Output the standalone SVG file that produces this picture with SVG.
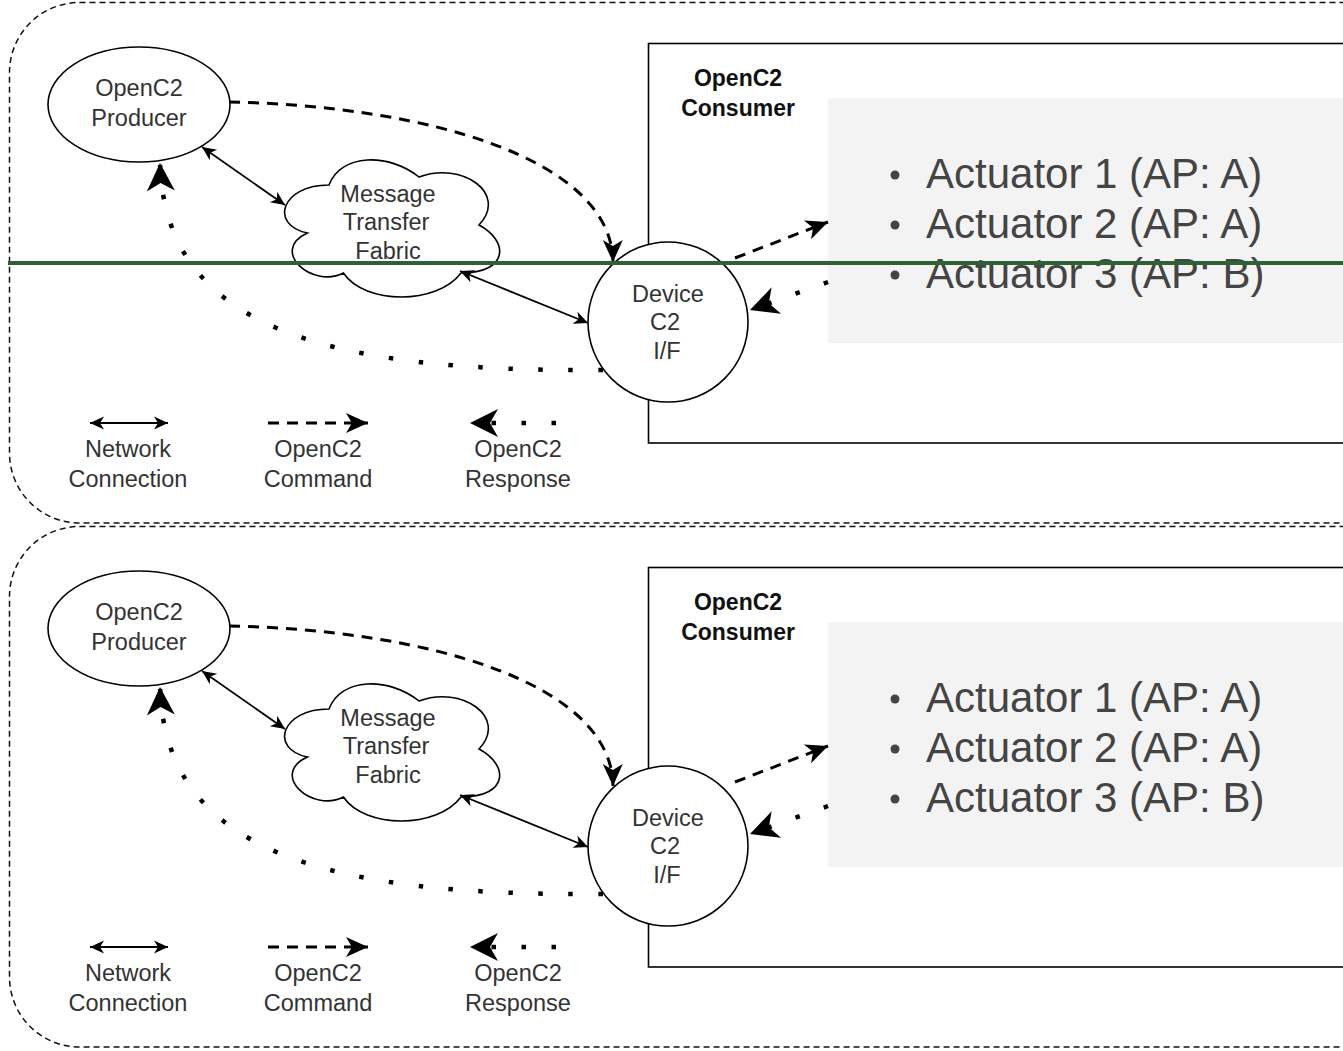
<svg xmlns="http://www.w3.org/2000/svg" width="1343" height="1051" viewBox="0 0 1343 1051">
  <style>
    .frame { fill: none; stroke: #111; stroke-width: 1.5; stroke-dasharray: 6 4; }
    .node { fill: #fff; stroke: #000; stroke-width: 1.6; }
    .box { fill: #fff; stroke: #000; stroke-width: 1.6; }
    .panel { fill: #f3f3f3; stroke: none; }
    .lbl { font-family: "Liberation Sans", Arial, sans-serif; font-size: 23.5px; fill: #333; text-anchor: middle; }
    .bold { font-weight: bold; fill: #111; font-size: 23px; }
    .act { font-family: "Liberation Sans", Arial, sans-serif; font-size: 42px; fill: #444; }
    .bullet { fill: #444; }
    .net { fill: none; stroke: #000; stroke-width: 1.8; marker-start: url(#netHead); marker-end: url(#netHead); }
    .cmd { fill: none; stroke: #000; stroke-width: 3; stroke-dasharray: 11 8; marker-end: url(#cmdHead); }
    .rsp { fill: none; stroke: #000; stroke-width: 4.5; stroke-dasharray: 4.5 25.5; marker-end: url(#rspHead); }
    .divider { stroke: #2e6133; stroke-width: 4; }
  </style>
  <defs>
    <marker id="netHead" markerUnits="userSpaceOnUse" orient="auto-start-reverse" refX="0" refY="0" markerWidth="1" markerHeight="1" overflow="visible">
      <path d="M0,0 L-14,-6.5 L-10,0 L-14,6.5 Z" fill="#000"/>
    </marker>
    <marker id="cmdHead" markerUnits="userSpaceOnUse" orient="auto" refX="0" refY="0" markerWidth="1" markerHeight="1" overflow="visible">
      <path d="M0,0 L-22,-10 L-16,0 L-22,10 Z" fill="#000"/>
    </marker>
    <marker id="rspHead" markerUnits="userSpaceOnUse" orient="auto" refX="0" refY="0" markerWidth="1" markerHeight="1" overflow="visible">
      <path d="M0,0 L-28,-14 L-20,0 L-28,14 Z" fill="#000"/>
    </marker>
  </defs>

  <!-- Upper scenario -->
  <g id="scenario-a">
    <rect class="frame" x="9.5" y="2.5" width="1500" height="520.5" rx="70" ry="70"/>

    <g id="a-consumer">
      <rect class="box" x="648.5" y="43.5" width="800" height="399.5"/>
      <text class="lbl bold" x="738" y="86">OpenC2</text>
      <text class="lbl bold" x="738" y="116">Consumer</text>
    </g>

    <g id="a-actuators">
      <rect class="panel" x="828" y="98" width="600" height="245"/>
      <circle class="bullet" cx="895" cy="175" r="4.5"/>
      <circle class="bullet" cx="895" cy="225" r="4.5"/>
      <circle class="bullet" cx="895" cy="275" r="4.5"/>
      <text class="act" x="926" y="188">Actuator 1 (AP: A)</text>
      <text class="act" x="926" y="238">Actuator 2 (AP: A)</text>
      <text class="act" x="926" y="288">Actuator 3 (AP: B)</text>
    </g>

    <g id="a-producer">
      <ellipse class="node" cx="139" cy="104.5" rx="91" ry="57.5"/>
      <text class="lbl" x="139" y="96">OpenC2</text>
      <text class="lbl" x="139" y="126">Producer</text>
    </g>

    <g id="a-fabric">
      <path class="node" d="M329,185 C281,185 269,225 307.4,233 C269,250.6 312.2,289 343.4,273 C365,305 437,305 461,273 C509,273 509,241 479,225 C509,193 461,161 419,177 C389,153 341,153 329,185 Z"/>
      <text class="lbl" x="388" y="202">Message</text>
      <text class="lbl" x="386" y="230">Transfer</text>
      <text class="lbl" x="388" y="259">Fabric</text>
    </g>

    <g id="a-device">
      <circle class="node" cx="668" cy="322" r="80"/>
      <text class="lbl" x="668" y="302">Device</text>
      <text class="lbl" x="665" y="330">C2</text>
      <text class="lbl" x="667" y="359">I/F</text>
    </g>

    <g id="a-connectors">
      <path class="net" d="M202,147 L285,205"/>
      <path class="net" d="M460,271 L588,323"/>
      <path class="cmd" d="M229,102 C430,106 612,160 613,262"/>
      <path class="cmd" d="M735,258 L828,222"/>
      <path class="rsp" d="M603,370 C330,372 165,330 160,163"/>
      <path class="rsp" d="M828,282 L750,310"/>
    </g>

    <g id="a-legend">
      <path class="net" d="M90,423 L168,423"/>
      <path class="cmd" d="M268,423 L368,423"/>
      <path class="rsp" d="M556,423 L470,423"/>
      <text class="lbl" x="128" y="457">Network</text>
      <text class="lbl" x="128" y="487">Connection</text>
      <text class="lbl" x="318" y="457">OpenC2</text>
      <text class="lbl" x="318" y="487">Command</text>
      <text class="lbl" x="518" y="457">OpenC2</text>
      <text class="lbl" x="518" y="487">Response</text>
    </g>

    <line class="divider" x1="8" y1="263" x2="1343" y2="263"/>
  </g>

  <!-- Lower scenario -->
  <g id="scenario-b" transform="translate(0,524)">
    <rect class="frame" x="9.5" y="2.5" width="1500" height="520.5" rx="70" ry="70"/>

    <g id="b-consumer">
      <rect class="box" x="648.5" y="43.5" width="800" height="399.5"/>
      <text class="lbl bold" x="738" y="86">OpenC2</text>
      <text class="lbl bold" x="738" y="116">Consumer</text>
    </g>

    <g id="b-actuators">
      <rect class="panel" x="828" y="98" width="600" height="245"/>
      <circle class="bullet" cx="895" cy="175" r="4.5"/>
      <circle class="bullet" cx="895" cy="225" r="4.5"/>
      <circle class="bullet" cx="895" cy="275" r="4.5"/>
      <text class="act" x="926" y="188">Actuator 1 (AP: A)</text>
      <text class="act" x="926" y="238">Actuator 2 (AP: A)</text>
      <text class="act" x="926" y="288">Actuator 3 (AP: B)</text>
    </g>

    <g id="b-producer">
      <ellipse class="node" cx="139" cy="104.5" rx="91" ry="57.5"/>
      <text class="lbl" x="139" y="96">OpenC2</text>
      <text class="lbl" x="139" y="126">Producer</text>
    </g>

    <g id="b-fabric">
      <path class="node" d="M329,185 C281,185 269,225 307.4,233 C269,250.6 312.2,289 343.4,273 C365,305 437,305 461,273 C509,273 509,241 479,225 C509,193 461,161 419,177 C389,153 341,153 329,185 Z"/>
      <text class="lbl" x="388" y="202">Message</text>
      <text class="lbl" x="386" y="230">Transfer</text>
      <text class="lbl" x="388" y="259">Fabric</text>
    </g>

    <g id="b-device">
      <circle class="node" cx="668" cy="322" r="80"/>
      <text class="lbl" x="668" y="302">Device</text>
      <text class="lbl" x="665" y="330">C2</text>
      <text class="lbl" x="667" y="359">I/F</text>
    </g>

    <g id="b-connectors">
      <path class="net" d="M202,147 L285,205"/>
      <path class="net" d="M460,271 L588,323"/>
      <path class="cmd" d="M229,102 C430,106 612,160 613,262"/>
      <path class="cmd" d="M735,258 L828,222"/>
      <path class="rsp" d="M603,370 C330,372 165,330 160,163"/>
      <path class="rsp" d="M828,282 L750,310"/>
    </g>

    <g id="b-legend">
      <path class="net" d="M90,423 L168,423"/>
      <path class="cmd" d="M268,423 L368,423"/>
      <path class="rsp" d="M556,423 L470,423"/>
      <text class="lbl" x="128" y="457">Network</text>
      <text class="lbl" x="128" y="487">Connection</text>
      <text class="lbl" x="318" y="457">OpenC2</text>
      <text class="lbl" x="318" y="487">Command</text>
      <text class="lbl" x="518" y="457">OpenC2</text>
      <text class="lbl" x="518" y="487">Response</text>
    </g>
  </g>
</svg>
